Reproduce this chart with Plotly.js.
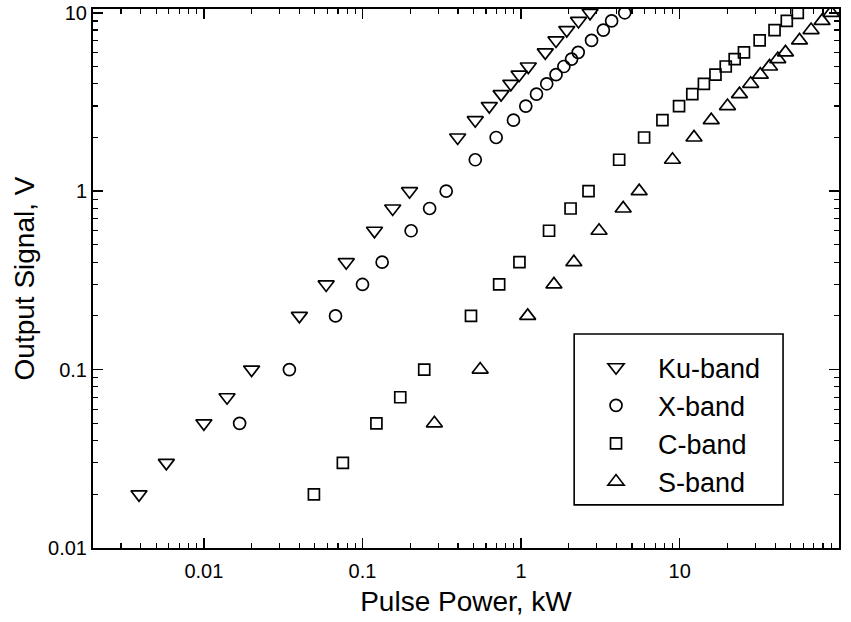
<!DOCTYPE html>
<html>
<head>
<meta charset="utf-8">
<script src="https://cdn.plot.ly/plotly-3.0.1.min.js"></script>
<style>html,body{margin:0;padding:0;background:#fff;}#chart{width:851px;height:622px;}</style>
</head>
<body>
<div id="chart"></div>
<script>
// Ku-band
var kuX = [0.0039, 0.0058, 0.010, 0.014, 0.020, 0.040, 0.059, 0.079, 0.119, 0.155, 0.198, 0.398, 0.514, 0.63, 0.748, 0.861, 0.971, 1.11, 1.42, 1.66, 1.94, 2.3, 2.72];
var kuY = [0.02, 0.03, 0.05, 0.07, 0.1, 0.2, 0.3, 0.4, 0.6, 0.8, 1.0, 2.0, 2.5, 3.0, 3.5, 4.0, 4.5, 5.0, 6.0, 7.0, 8.0, 9.0, 10.0];
// X-band
var xbX = [0.0168, 0.0346, 0.0676, 0.100, 0.133, 0.2025, 0.265, 0.337, 0.514, 0.696, 0.895, 1.07, 1.25, 1.45, 1.66, 1.86, 2.08, 2.29, 2.78, 3.3, 3.72, 4.5];
var xbY = [0.05, 0.1, 0.2, 0.3, 0.4, 0.6, 0.8, 1.0, 1.5, 2.0, 2.5, 3.0, 3.5, 4.0, 4.5, 5.0, 5.5, 6.0, 7.0, 8.0, 9.0, 10.0];
// C-band
var cX = [0.0494, 0.0752, 0.1224, 0.173, 0.245, 0.483, 0.727, 0.976, 1.5, 2.05, 2.66, 4.15, 5.96, 7.78, 9.9, 12.0, 14.2, 16.8, 19.5, 22.2, 25.4, 31.9, 39.6, 47.3, 55.5];
var cY = [0.02, 0.03, 0.05, 0.07, 0.1, 0.2, 0.3, 0.4, 0.6, 0.8, 1.0, 1.5, 2.0, 2.5, 3.0, 3.5, 4.0, 4.5, 5.0, 5.5, 6.0, 7.0, 8.0, 9.0, 10.0];
// S-band
var sX = [0.284, 0.552, 1.10, 1.61, 2.15, 3.1, 4.4, 5.55, 9.0, 12.3, 15.8, 20.0, 23.8, 28.0, 32.2, 36.8, 41.5, 46.4, 56.9, 67.3, 78.9, 90.0];
var sY = [0.05, 0.1, 0.2, 0.3, 0.4, 0.6, 0.8, 1.0, 1.5, 2.0, 2.5, 3.0, 3.5, 4.0, 4.5, 5.0, 5.5, 6.0, 7.0, 8.0, 9.0, 10.0];

var seriesNames = ["Ku-band", "X-band", "C-band", "S-band"];

var xTickVals = [0.01, 0.1, 1, 10, 100];
var xTickText = ["0.01", "0.1", "1", "10", "100"];
var yTickVals = [0.01, 0.1, 1, 10];
var yTickText = ["0.01", "0.1", "1", "10"];

function minorTicks(lo, hi) {
  var out = [];
  for (var e = lo; e < hi; e++) {
    for (var d = 2; d <= 9; d++) out.push(d * Math.pow(10, e));
  }
  return out;
}

var FONT = "Liberation Sans, Arial, sans-serif";
var mk = function (sym, size) {
  return {symbol: sym, size: size, color: "#000", line: {color: "#000", width: 1.7}};
};

var traces = [
  {x: kuX, y: kuY, name: seriesNames[0], mode: "markers", type: "scatter", marker: mk("triangle-down-open", 14)},
  {x: xbX, y: xbY, name: seriesNames[1], mode: "markers", type: "scatter", marker: mk("circle-open", 12)},
  {x: cX, y: cY, name: seriesNames[2], mode: "markers", type: "scatter", marker: mk("square-open", 11)},
  {x: sX, y: sY, name: seriesNames[3], mode: "markers", type: "scatter", marker: mk("triangle-up-open", 14)}
];

var axisCommon = {
  type: "log",
  showgrid: false,
  zeroline: false,
  showline: true,
  linecolor: "#000",
  linewidth: 2,
  mirror: "allticks",
  ticks: "inside",
  ticklen: 10,
  tickwidth: 1.5,
  tickcolor: "#000",
  tickfont: {family: FONT, size: 20, color: "#000"}
};

var layout = {
  width: 851,
  height: 622,
  paper_bgcolor: "#fff",
  plot_bgcolor: "#fff",
  margin: {l: 93, r: 12, t: 9, b: 74},
  showlegend: true,
  xaxis: Object.assign({}, axisCommon, {
    range: [Math.log10(0.002), 2.004],
    tickmode: "array",
    tickvals: xTickVals,
    ticktext: xTickText,
    ticklabelstandoff: 4,
    minor: {tickmode: "array", tickvals: minorTicks(-3, 2), ticks: "inside", ticklen: 5, tickwidth: 1.2, tickcolor: "#000"},
    title: {text: "Pulse Power, kW", font: {family: FONT, size: 28, color: "#000"}, standoff: 10}
  }),
  yaxis: Object.assign({}, axisCommon, {
    range: [-2, Math.log10(10.5)],
    tickmode: "array",
    tickvals: yTickVals,
    ticktext: yTickText,
    minor: {tickmode: "array", tickvals: minorTicks(-2, 1), ticks: "inside", ticklen: 5, tickwidth: 1.2, tickcolor: "#000"},
    title: {text: "Output Signal, V", font: {family: FONT, size: 28, color: "#000"}, standoff: 5}
  }),
  legend: {
    x: 0.6448, y: 0.38, xanchor: "left", yanchor: "top",
    bgcolor: "rgba(0,0,0,0)",
    borderwidth: 0,
    font: {family: FONT, size: 27, color: "#000"},
    itemwidth: 74,
    tracegroupgap: 0
  },
  shapes: [
    {type: "rect", xref: "paper", yref: "paper", x0: 0.645, x1: 0.925, y0: 0.080, y1: 0.397,
     line: {color: "#000", width: 1.6}, fillcolor: "#fff", layer: "below"}
  ]
};

Plotly.newPlot("chart", traces, layout, {staticPlot: true, displayModeBar: false});
</script>
</body>
</html>
